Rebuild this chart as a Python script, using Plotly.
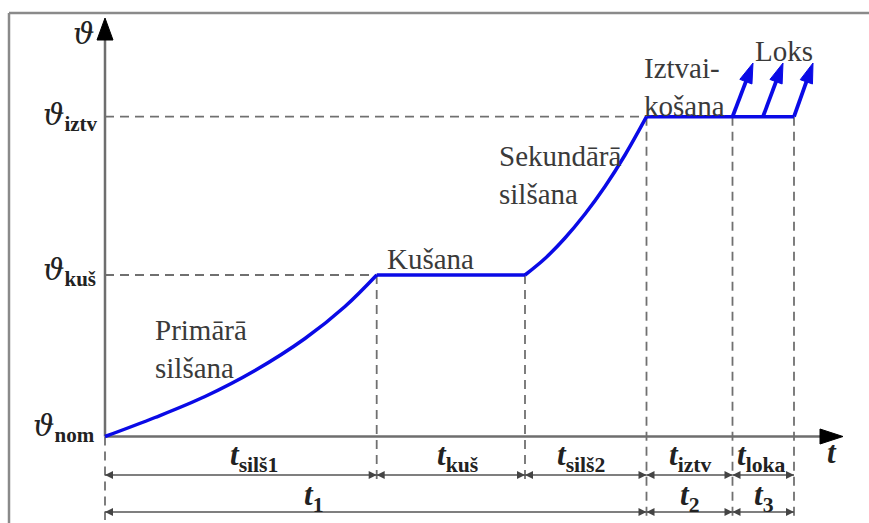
import plotly.graph_objects as go

# ---------------- data (diagram units: time t, temperature theta) ----------------
# phase boundaries on the time axis
T_PHASES = [0.0, 27.17, 42.0, 54.15, 62.75, 68.9]
THETA_NOM = 0.0
THETA_KUS = 16.15
THETA_IZTV = 31.98

# primary heating curve
t_primary = [0.0, 5.0, 10.0, 15.0, 20.0, 24.0, 27.17]
theta_primary = [0.0, 1.9, 4.0, 6.6, 9.8, 13.0, 16.15]

# secondary heating curve
t_secondary = [42.0, 44.0, 46.0, 48.0, 50.0, 52.0, 54.15]
theta_secondary = [16.15, 17.8, 19.85, 22.25, 25.0, 28.15, 31.98]

# arc ("Loks") arrows
loks_start_t = [62.75, 65.8, 68.9]
loks_end_t = [64.8, 67.8, 70.8]
LOKS_END_THETA = 37.35

# dimension rows
DIM_ROW1 = -3.85
DIM_ROW2 = -7.55
row1_segments = [(T_PHASES[0], T_PHASES[1]), (T_PHASES[1], T_PHASES[2]), (T_PHASES[2], T_PHASES[3]),
                 (T_PHASES[3], T_PHASES[4]), (T_PHASES[4], T_PHASES[5])]
row2_segments = [(T_PHASES[0], T_PHASES[3]), (T_PHASES[3], T_PHASES[4]), (T_PHASES[4], T_PHASES[5])]

# axis extents
T_AXIS_TIP = 73.8
THETA_AXIS_TIP = 41.85
X_RANGE = [-10.5, 76.4]
Y_RANGE = [-8.65, 43.65]

# ------------------------------ styling --------------------------------------------
BLUE = "#0a0ae6"
GRAY = "#6e6e6e"
DASH_GRAY = "#707070"
TXT = "#3a3a3a"
SERIF = "Liberation Serif"

fig = go.Figure()

# frame (left and top border)
fig.add_shape(type="line", x0=-9.6, x1=-9.6, y0=Y_RANGE[0], y1=42.35, line=dict(color="#8a8a8a", width=2.5))
fig.add_shape(type="line", x0=-9.6, x1=X_RANGE[1], y0=42.35, y1=42.35, line=dict(color="#8a8a8a", width=2.5))

dash = "9px,6px"
def dashed(xs, ys):
    fig.add_trace(go.Scatter(x=xs, y=ys, mode="lines", line=dict(color=DASH_GRAY, width=1.8, dash=dash),
                             hoverinfo="skip", showlegend=False))

# horizontal guide lines
dashed([0, T_PHASES[1]], [THETA_KUS, THETA_KUS])
dashed([0, T_PHASES[3]], [THETA_IZTV, THETA_IZTV])
# vertical guide lines
dashed([0, 0], [THETA_NOM, -8.35])
dashed([T_PHASES[1], T_PHASES[1]], [THETA_KUS, -4.35])
dashed([T_PHASES[2], T_PHASES[2]], [THETA_KUS, -4.35])
for tp in T_PHASES[3:]:
    dashed([tp, tp], [THETA_IZTV, -8.35])

# axes lines
fig.add_trace(go.Scatter(x=[0, T_AXIS_TIP - 1.5], y=[0, 0], mode="lines", line=dict(color=GRAY, width=2.5),
                         hoverinfo="skip", showlegend=False))
fig.add_trace(go.Scatter(x=[0, 0], y=[0, THETA_AXIS_TIP - 1.5], mode="lines", line=dict(color=GRAY, width=2.5),
                         hoverinfo="skip", showlegend=False))
# axis arrow heads (filled triangles built from the tip positions)
HL_T, HW_TH = 2.3, 0.75
HL_TH, HW_T = 2.2, 0.8
fig.add_trace(go.Scatter(x=[T_AXIS_TIP, T_AXIS_TIP - HL_T, T_AXIS_TIP - HL_T, T_AXIS_TIP],
                         y=[0, HW_TH, -HW_TH, 0], mode="lines", fill="toself", fillcolor="black",
                         line=dict(color="black", width=1), hoverinfo="skip", showlegend=False))
fig.add_trace(go.Scatter(x=[0, HW_T, -HW_T, 0],
                         y=[THETA_AXIS_TIP, THETA_AXIS_TIP - HL_TH, THETA_AXIS_TIP - HL_TH, THETA_AXIS_TIP],
                         mode="lines", fill="toself", fillcolor="black",
                         line=dict(color="black", width=1), hoverinfo="skip", showlegend=False))

# temperature curve
fig.add_trace(go.Scatter(x=t_primary, y=theta_primary, mode="lines", line=dict(color=BLUE, width=3.5, shape="spline"),
                         hoverinfo="skip", showlegend=False))
fig.add_trace(go.Scatter(x=[T_PHASES[1], T_PHASES[2]], y=[THETA_KUS, THETA_KUS], mode="lines",
                         line=dict(color=BLUE, width=3.5), hoverinfo="skip", showlegend=False))
fig.add_trace(go.Scatter(x=t_secondary, y=theta_secondary, mode="lines", line=dict(color=BLUE, width=3.5, shape="spline"),
                         hoverinfo="skip", showlegend=False))
fig.add_trace(go.Scatter(x=[T_PHASES[3], T_PHASES[5]], y=[THETA_IZTV, THETA_IZTV], mode="lines",
                         line=dict(color=BLUE, width=3.5), hoverinfo="skip", showlegend=False))

# arc arrows (line + arrow marker at the end)
for ts, te in zip(loks_start_t, loks_end_t):
    fig.add_trace(go.Scatter(x=[ts, te], y=[THETA_IZTV, LOKS_END_THETA], mode="lines+markers",
                             line=dict(color=BLUE, width=3.8),
                             marker=dict(symbol="arrow", angleref="previous", size=[0, 21], color=BLUE,
                                         opacity=1, line=dict(width=1, color=BLUE)),
                             hoverinfo="skip", showlegend=False))

# dimension arrows (double headed)
for row, segs in ((DIM_ROW1, row1_segments), (DIM_ROW2, row2_segments)):
    for a, b in segs:
        fig.add_trace(go.Scatter(x=[a, b], y=[row, row], mode="lines+markers",
                                 line=dict(color="#555555", width=1.6),
                                 marker=dict(symbol=["arrow-left", "arrow-right"], size=8, color="#444444",
                                             line=dict(width=0)),
                                 hoverinfo="skip", showlegend=False))

def label(x, y, text, size, xanchor="left", color=TXT, align="left"):
    fig.add_annotation(x=x, y=y, xref="x", yref="y", text=text, showarrow=False, xanchor=xanchor, yanchor="middle",
                       align=align, font=dict(family=SERIF, size=size, color=color))

TH = "<span style='font-family:DejaVu Serif;font-size:30px'><i>ϑ</i></span>"
# theta labels
label(-2.2, 40.3, TH, 30, xanchor="center", color="#222")
label(-0.5, 32.0, TH + "<sub><b>iztv</b></sub>", 30, xanchor="right", color="#222")
label(-0.7, 16.5, TH + "<sub><b>kuš</b></sub>", 30, xanchor="right", color="#222")
label(-0.8, 0.9, TH + "<sub><b>nom</b></sub>", 30, xanchor="right", color="#222")

# phase texts
PS = 29
label(4.8, 8.75, "Primārā<br>silšana", PS)
label(28.0, 17.75, "Kušana", PS)
label(39.2, 26.15, "Sekundārā<br>silšana", PS)
label(53.7, 34.95, "Iztvai-<br>košana", PS)
label(64.8, 38.55, "Loks", PS)

# time labels
TL = 31
def tlab(x, y, sub):
    label(x, y, "<b><i>t</i></b><sub><b>" + sub + "</b></sub>", TL, color="#222")

tlab(12.3, -2.0, "silš1")
tlab(33.0, -2.0, "kuš")
tlab(45.0, -2.0, "silš2")
tlab(56.2, -2.0, "iztv")
tlab(63.0, -2.0, "loka")
tlab(19.7, -6.0, "1")
tlab(57.3, -6.0, "2")
tlab(64.7, -6.0, "3")
label(72.0, -1.55, "<b><i>t</i></b>", TL, color="#222")

fig.update_layout(
    width=869, height=523, margin=dict(l=0, r=0, t=0, b=0),
    paper_bgcolor="white", plot_bgcolor="white", showlegend=False,
    xaxis=dict(range=X_RANGE, visible=False, fixedrange=True),
    yaxis=dict(range=Y_RANGE, visible=False, fixedrange=True),
)

fig.write_html("out.html", config={"displayModeBar": False}, post_script="document.body.style.margin='0';")
